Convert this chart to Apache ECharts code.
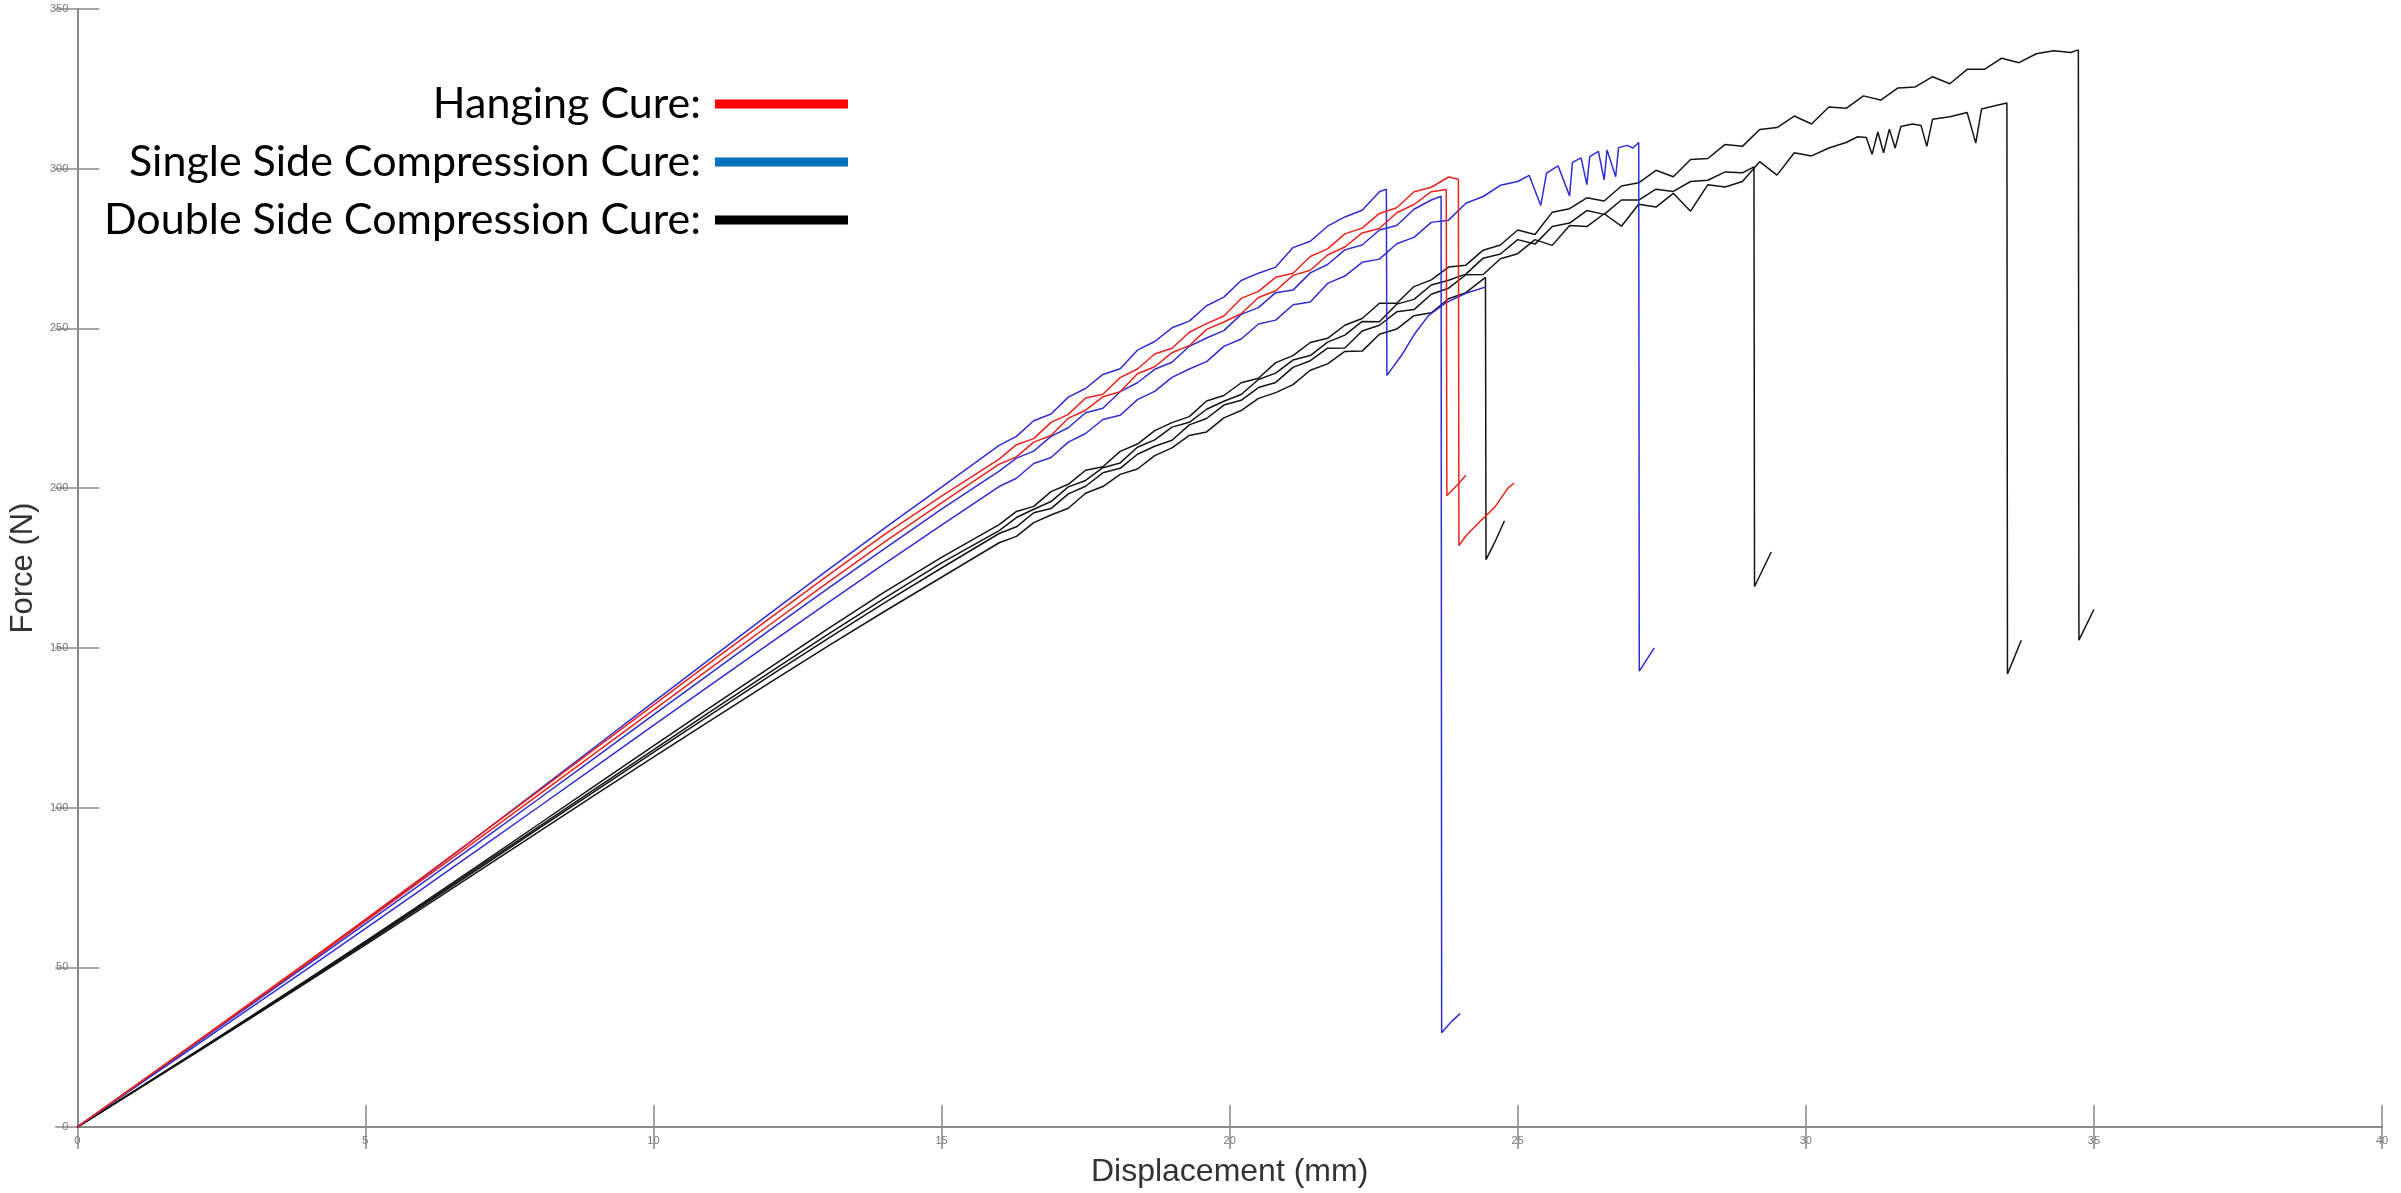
<!DOCTYPE html>
<html>
<head>
<meta charset="utf-8">
<script src="https://cdn.jsdelivr.net/npm/echarts@6/dist/echarts.min.js"></script>
<style>
html,body{margin:0;padding:0;background:#fff;}
#chart{width:2401px;height:1193px;}
</style>
</head>
<body>
<div id="chart"></div>
<script>
// axis ranges
const xMin = 0, xMax = 40, xStep = 5;
const yMin = 0, yMax = 350, yStep = 50;

const legendNames = ['Hanging Cure:', 'Single Side Compression Cure:', 'Double Side Compression Cure:'];

// Hanging cure (red)
const red1 = [[0,0],[1,12.9],[2,25.8],[3,38.8],[4,51.8],[5,65],[6,78.3],[7,91.7],[8,105.1],[9,118.6],[10,132.1],[11,145.6],[12,159],[13,172.3],[14,185.4],[15,197.5],[16,209.1],[16.3,213.6],[16.6,215.5],[16.9,220.6],[17.2,223.1],[17.5,228.2],[17.8,229.4],[18.1,234.6],[18.4,237.3],[18.7,242],[19,243.8],[19.3,248.8],[19.6,251.5],[19.9,253.9],[20.2,259.4],[20.5,261.6],[20.8,266],[21.1,267.3],[21.4,272.5],[21.7,274.9],[22,279.6],[22.3,281.4],[22.6,286],[22.9,287.8],[23.2,292.8],[23.5,294.2],[23.8,297.4],[23.97,296.7],[23.98,182],[24.1,185],[24.37,190],[24.6,194],[24.83,200],[24.94,201.6]];
const red2 = [[0,0],[1,12.8],[2,25.6],[3,38.5],[4,51.4],[5,64.4],[6,77.5],[7,90.7],[8,103.9],[9,117.2],[10,130.5],[11,143.8],[12,157],[13,170.1],[14,183],[15,195.4],[16,207.5],[16.3,209.8],[16.6,214.4],[16.9,216.5],[17.2,221.9],[17.5,224.4],[17.8,228.6],[18.1,230.2],[18.4,235.8],[18.7,238],[19,242.4],[19.3,244.6],[19.6,249.7],[19.9,252],[20.2,254.6],[20.5,259.7],[20.8,261.8],[21.1,266.6],[21.4,268.2],[21.7,273],[22,275.5],[22.3,279.9],[22.6,281.3],[22.9,286.2],[23.2,288.8],[23.5,292.8],[23.76,293.5],[23.77,197.6],[23.95,201],[24.1,204]];

// Single side compression cure (blue)
const blue1 = [[0,0],[1,12.7],[2,25.5],[3,38.4],[4,51.4],[5,64.6],[6,78.1],[7,91.7],[8,105.4],[9,119.2],[10,133],[11,146.8],[12,160.5],[13,174],[14,187.3],[15,200.3],[16,213.4],[16.3,216.2],[16.6,221.1],[16.9,223.2],[17.2,228.5],[17.5,231.2],[17.8,235.6],[18.1,237.4],[18.4,243.2],[18.7,245.9],[19,250.2],[19.3,252.3],[19.6,257.1],[19.9,259.8],[20.2,265],[20.5,267.3],[20.8,269.2],[21.1,275.3],[21.4,277.3],[21.7,282],[22,284.9],[22.3,287],[22.6,292.8],[22.72,293.6],[22.73,235.3],[23,242],[23.2,248],[23.45,254],[23.75,258],[24.1,261],[24.45,263]];
const blue2 = [[0,0],[1,12.7],[2,25.4],[3,38.1],[4,50.8],[5,63.6],[6,76.5],[7,89.5],[8,102.6],[9,115.8],[10,129],[11,142.2],[12,155.3],[13,168.2],[14,180.9],[15,193.4],[16,205.3],[16.3,209.4],[16.6,211.6],[16.9,216.2],[17.2,218.9],[17.5,223.6],[17.8,225],[18.1,230.2],[18.4,233],[18.7,237.2],[19,239.4],[19.3,244.4],[19.6,247],[19.9,249.3],[20.2,254.4],[20.5,256.5],[20.8,261.2],[21.1,262],[21.4,267.4],[21.7,270],[22,274.6],[22.3,276.1],[22.6,280.8],[22.9,282.2],[23.2,287.3],[23.5,290.2],[23.67,291.4],[23.68,29.5],[23.85,33],[24,35.5]];
const blue3 = [[0,0],[1,12.4],[2,24.8],[3,37.2],[4,49.6],[5,62.1],[6,74.7],[7,87.4],[8,100.1],[9,112.9],[10,125.7],[11,138.5],[12,151.2],[13,163.8],[14,176.2],[15,188.4],[16,200.5],[16.3,203.1],[16.6,207.7],[16.9,209.6],[17.2,214.4],[17.5,217.1],[17.8,221.5],[18.1,222.8],[18.4,227.7],[18.7,230.3],[19,234.7],[19.3,237.3],[19.6,239.6],[19.9,244.4],[20.2,246.7],[20.5,251.4],[20.8,252.6],[21.1,257.4],[21.4,258.3],[21.7,264.1],[22,266.4],[22.3,270.7],[22.6,271.7],[22.9,276.5],[23.2,278.5],[23.5,283.2],[23.8,283.9],[24.1,289.2],[24.4,291.3],[24.7,294.8],[25,296],[25.2,297.9],[25.4,288.5],[25.5,298.6],[25.7,300.9],[25.9,291.5],[25.95,302],[26.1,303.4],[26.2,295],[26.25,303.8],[26.4,305.4],[26.5,296.5],[26.55,305.9],[26.7,297.5],[26.75,306.6],[26.9,307.3],[27,306.5],[27.1,308.2],[27.11,142.7],[27.37,150]];

// Double side compression cure (black)
const blackA = [[0,0],[1,11.4],[2,22.9],[3,34.5],[4,46.2],[5,58.1],[6,70.2],[7,82.4],[8,94.7],[9,107],[10,119.3],[11,131.5],[12,143.6],[13,155.6],[14,167.4],[15,178.3],[16,188.6],[16.3,192.7],[16.6,194.3],[16.9,198.9],[17.2,201.2],[17.5,205.6],[17.8,206.7],[18.1,211.5],[18.4,213.8],[18.7,218],[19,220.5],[19.3,222.4],[19.6,227.3],[19.9,229],[20.2,233],[20.5,234.4],[20.8,239.3],[21.1,241.5],[21.4,245.6],[21.7,246.9],[22,251],[22.3,253.1],[22.6,257.9],[22.9,257.9],[23.2,263.1],[23.5,265.2],[23.8,269.2],[24.1,269.8],[24.4,274.5],[24.7,276.1],[25,280.8],[25.3,279.4],[25.6,286.4],[25.9,287.5],[26.2,290.9],[26.5,289.9],[26.8,294.6],[27.1,295.6],[27.4,299.5],[27.7,297.5],[28,302.9],[28.3,303.2],[28.6,307.6],[28.9,307],[29.2,312.3],[29.5,312.9],[29.8,316.5],[30.1,314],[30.4,319.3],[30.7,318.9],[31,322.8],[31.3,321.5],[31.6,325.3],[31.9,325.6],[32.2,328.8],[32.5,326.6],[32.8,331.1],[33.1,331.1],[33.4,334.6],[33.7,333.2],[34,336],[34.3,336.9],[34.6,336.4],[34.73,337.2],[34.74,152.4],[35,162]];
const blackB = [[0,0],[1,11.3],[2,22.7],[3,34.2],[4,45.8],[5,57.5],[6,69.3],[7,81.3],[8,93.3],[9,105.3],[10,117.3],[11,129.2],[12,141],[13,152.6],[14,164],[15,175],[16,185.8],[16.3,187.9],[16.6,192.3],[16.9,193.6],[17.2,198.2],[17.5,200.6],[17.8,204.8],[18.1,206.2],[18.4,210.6],[18.7,213.1],[19,215],[19.3,219.8],[19.6,221.8],[19.9,226],[20.2,227.5],[20.5,231.5],[20.8,233.1],[21.1,237.8],[21.4,239.9],[21.7,243.8],[22,243.9],[22.3,249.2],[22.6,251],[22.9,255.2],[23.2,255.9],[23.5,260.7],[23.8,262.6],[24.1,266.8],[24.4,266.9],[24.7,271.8],[25,273.4],[25.3,277.8],[25.6,276],[25.9,282.2],[26.2,281.9],[26.5,285.9],[26.8,282],[27.1,288.9],[27.4,288],[27.7,292.3],[28,286.7],[28.3,295],[28.6,294.3],[28.9,296],[29.2,302.2],[29.5,298],[29.8,305],[30.1,304],[30.4,306.5],[30.7,308.2],[30.9,310],[31.05,309.8],[31.15,304.5],[31.25,311.5],[31.35,305],[31.45,312.4],[31.55,306.5],[31.65,313.2],[31.85,314],[32,313.5],[32.1,307],[32.2,315.5],[32.5,316.3],[32.8,317.6],[32.95,308],[33.05,318.7],[33.3,319.8],[33.49,320.6],[33.5,141.8],[33.74,152.4]];
const blackC = [[0,0],[1,11.4],[2,22.8],[3,34.3],[4,46],[5,57.8],[6,69.7],[7,81.8],[8,93.9],[9,106],[10,118.1],[11,130.2],[12,142.1],[13,153.9],[14,165.4],[15,176.6],[16,186.7],[16.3,190.8],[16.6,193.4],[16.9,195.8],[17.2,200.4],[17.5,202.4],[17.8,206.4],[18.1,207.9],[18.4,212.8],[18.7,215.1],[19,219.1],[19.3,220.6],[19.6,224.7],[19.9,227.2],[20.2,229.3],[20.5,234],[20.8,236],[21.1,240.1],[21.4,241.5],[21.7,245.7],[22,247.9],[22.3,252.2],[22.6,252.1],[22.9,257.6],[23.2,259.1],[23.5,263.6],[23.8,265.1],[24.1,267],[24.4,272],[24.7,273.3],[25,277.8],[25.3,276.4],[25.6,281.9],[25.9,283],[26.2,286.9],[26.5,285.7],[26.8,290.2],[27.1,290.2],[27.4,293.6],[27.7,292.9],[28,296],[28.3,296.4],[28.6,299],[28.9,298.7],[29.1,300.6],[29.11,169.2],[29.4,180]];
const blackD = [[0,0],[1,11.2],[2,22.5],[3,33.9],[4,45.4],[5,57],[6,68.7],[7,80.5],[8,92.3],[9,104.1],[10,115.8],[11,127.4],[12,138.9],[13,150.2],[14,161.3],[15,172.1],[16,182.9],[16.3,184.9],[16.6,189.2],[16.9,191.6],[17.2,193.7],[17.5,198.4],[17.8,200.5],[18.1,204.3],[18.4,206],[18.7,210.2],[19,212.6],[19.3,216.5],[19.6,217.6],[19.9,222],[20.2,224.3],[20.5,228.1],[20.8,229.9],[21.1,232.4],[21.4,236.9],[21.7,238.9],[22,242.8],[22.3,242.9],[22.6,248.2],[22.9,249.8],[23.2,254],[23.5,254.9],[23.8,259.3],[24.1,261.2],[24.44,266],[24.45,177.6],[24.6,183],[24.77,189.8]];

const lineColors = { red: '#e8231e', blue: '#2e2ed0', black: '#141414' };
const legendColors = ['#ff0000', '#0070c0', '#000000'];

function mk(name, data, color) {
  return {
    name: name, type: 'line', data: data, showSymbol: false, symbol: 'none',
    lineStyle: { color: color, width: 1.5 }, itemStyle: { color: color },
    emphasis: { disabled: true }, silent: true, animation: false
  };
}

const series = [
  mk(legendNames[2], blackD, lineColors.black),
  mk(legendNames[2], blackC, lineColors.black),
  mk(legendNames[2], blackB, lineColors.black),
  mk(legendNames[2], blackA, lineColors.black),
  mk(legendNames[1], blue3, lineColors.blue),
  mk(legendNames[1], blue2, lineColors.blue),
  mk(legendNames[1], blue1, lineColors.blue),
  mk(legendNames[0], red2, lineColors.red),
  mk(legendNames[0], red1, lineColors.red)
];

const legendTops = [80, 138, 196];
const legends = legendNames.map((n, i) => ({
  data: [{ name: n, itemStyle: { color: legendColors[i] } }],
  orient: 'vertical', align: 'right', right: 1553, top: legendTops[i],
  icon: 'rect', itemWidth: 133, itemHeight: 9, padding: 0, selectedMode: false,
  textStyle: { fontFamily: 'Lato', fontSize: 43, color: '#000', lineHeight: 48, padding: [0, 9, 0, 0] }
}));

const axisLineGrey = { show: true, lineStyle: { color: '#8a8a8a', width: 2 } };
const tickStyle = { show: true, inside: true, length: 22, lineStyle: { color: '#8a8a8a', width: 1.5 } };

const chart = echarts.init(document.getElementById('chart'), null, { renderer: 'canvas' });
chart.setOption({
  backgroundColor: '#ffffff',
  animation: false,
  grid: { left: 74, right: 19, top: 9, bottom: 61, containLabel: false },
  legend: legends,
  xAxis: [
    {
      type: 'value', min: xMin, max: xMax, interval: xStep, position: 'bottom',
      name: 'Displacement (mm)', nameLocation: 'middle', nameGap: 29,
      nameTextStyle: { fontFamily: 'Liberation Sans', fontSize: 32, color: '#333' },
      axisLine: axisLineGrey, axisTick: tickStyle, splitLine: { show: false },
      axisLabel: { fontFamily: 'Liberation Sans', fontSize: 11, color: '#777', margin: 8 }
    },
    {
      type: 'value', min: xMin, max: xMax, interval: xStep, position: 'top',
      axisLine: axisLineGrey, axisTick: tickStyle, splitLine: { show: false },
      axisLabel: { show: false }
    }
  ],
  yAxis: [
    {
      type: 'value', min: yMin, max: yMax, interval: yStep, position: 'left',
      name: 'Force (N)', nameLocation: 'middle', nameGap: 34,
      nameTextStyle: { fontFamily: 'Liberation Sans', fontSize: 31, color: '#333' },
      axisLine: axisLineGrey, axisTick: tickStyle, splitLine: { show: false },
      axisLabel: { fontFamily: 'Liberation Sans', fontSize: 11, color: '#777', margin: 9 }
    },
    {
      type: 'value', min: yMin, max: yMax, interval: yStep, position: 'right',
      axisLine: axisLineGrey, axisTick: tickStyle, splitLine: { show: false },
      axisLabel: { show: false }
    }
  ],
  series: series
});
</script>
</body>
</html>
